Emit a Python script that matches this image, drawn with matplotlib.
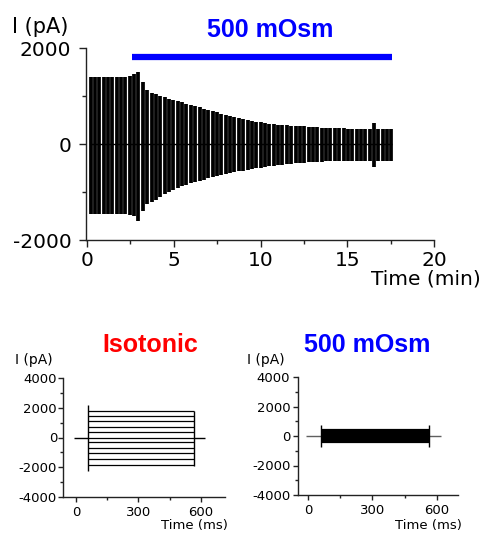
#!/usr/bin/env python3
"""Whole-cell current under hypertonic (500 mOsm) challenge: time course and step families."""
import matplotlib
matplotlib.use("Agg")
import matplotlib.pyplot as plt
import numpy as np
from matplotlib.ticker import MultipleLocator

plt.rcParams["axes.unicode_minus"] = False

# ---- time course (top panel): peak outward / inward current per sweep ----
sweep_t0, sweep_t1 = 0.2, 17.55          # min, first and last sweep
sweep_top = [
    1400, 1395, 1405, 1400, 1398, 1402, 1400, 1395, 1400, 1410,
    1450, 1490, 1300, 1120, 1070, 1040, 1010, 975, 945, 920,
    895, 865, 840, 815, 790, 765, 735, 710, 685, 660,
    630, 605, 580, 560, 535, 515, 500, 485, 465, 450,
    440, 425, 410, 400, 395, 390, 380, 375, 370, 365,
    360, 350, 345, 340, 335, 330, 330, 325, 325, 320,
    315, 315, 315, 310, 315, 440, 320, 320, 315, 310,
]
sweep_bottom = [
    -1460, -1455, -1465, -1460, -1458, -1462, -1455, -1460, -1465, -1470,
    -1500, -1610, -1400, -1260, -1200, -1160, -1100, -1040, -990, -950,
    -920, -880, -850, -820, -800, -770, -740, -715, -690, -665,
    -645, -625, -605, -590, -570, -555, -540, -525, -510, -495,
    -480, -465, -455, -440, -430, -420, -410, -400, -395, -390,
    -385, -375, -370, -365, -360, -358, -355, -352, -350, -350,
    -348, -347, -345, -345, -348, -475, -350, -350, -348, -347,
]
hyper_start, hyper_end = 2.6, 17.6       # min, 500 mOsm application
hyper_bar_level = 1810

# ---- step families (bottom panels), steady-state current per step ----
step_on, step_off = 60, 565              # ms
baseline_start, baseline_end = -10, 620  # ms
iso_levels = [1780, 1420, 1110, 730, 350, 0, -330, -710, -1050, -1450, -1830]
iso_edge_on = (-2220, 2160)
iso_edge_off = (-1900, 1800)
hyp_levels = [440, 350, 260, 180, 90, 0, -90, -180, -260, -350, -440]
hyp_edge = (-750, 750)

BLUE = "#0000FF"
RED = "#FF0000"
TICK_FONT = "DejaVu Sans"
TITLE_FONT = ["Liberation Sans", "DejaVu Sans"]

W, H = 483, 534
fig = plt.figure(figsize=(W / 100, H / 100), dpi=100)


def style_axis(ax, size, major_len, minor_len, ypad, xpad):
    for side in ("top", "right"):
        ax.spines[side].set_visible(False)
    for side in ("left", "bottom"):
        ax.spines[side].set_linewidth(1.0)
        ax.spines[side].set_color("#222222")
    ax.tick_params(which="major", direction="out", length=major_len, width=1.0,
                   labelsize=size, color="#222222")
    ax.tick_params(which="minor", direction="out", length=minor_len, width=1.0,
                   color="#222222")
    ax.tick_params(axis="y", pad=ypad)
    ax.tick_params(axis="x", pad=xpad)
    for label in ax.get_xticklabels() + ax.get_yticklabels():
        label.set_fontfamily(TICK_FONT)


# ---------------- top panel ----------------
ax = fig.add_axes([86 / W, 1 - 240 / H, (434 - 86) / W, (240 - 48) / H])
times = np.linspace(sweep_t0, sweep_t1, len(sweep_top))
ax.vlines(times, sweep_bottom, sweep_top, color="black", linewidth=2.7)
ax.hlines(0, sweep_t0 - 0.05, sweep_t1 + 0.05, color="black", linewidth=1.0)
ax.hlines(hyper_bar_level, hyper_start, hyper_end, color=BLUE, linewidth=4.5)
ax.set_xlim(-0.06, 20)
ax.set_ylim(-2000, 2000)
ax.set_xticks([0, 5, 10, 15, 20])
ax.set_yticks([-2000, 0, 2000])
ax.xaxis.set_minor_locator(MultipleLocator(2.5))
ax.yaxis.set_minor_locator(MultipleLocator(1000))
ax.spines["bottom"].set_bounds(-0.06, 20)
style_axis(ax, 14.5, 5, 3, 5.5, 3.0)
fig.text(12 / W, 1 - 27 / H, "I (pA)", fontsize=15, family=TICK_FONT,
         ha="left", va="center")
fig.text(481 / W, 1 - 279 / H, "Time (min)", fontsize=14.5, family=TICK_FONT,
         ha="right", va="center")
fig.text(270 / W, 1 - 30 / H, "500 mOsm", fontsize=18, fontweight="bold",
         family=TITLE_FONT, color=BLUE, ha="center", va="center")


# ---------------- bottom panels ----------------
def step_panel(rect, levels, edge_on, edge_off, line_w, base_color, xlim):
    axb = fig.add_axes(rect)
    axb.hlines(0, baseline_start, step_on, color=base_color, linewidth=1.0)
    axb.hlines(0, step_off, baseline_end, color=base_color, linewidth=1.0)
    axb.hlines(levels, step_on, step_off, color="black", linewidth=line_w)
    axb.vlines([step_on], *edge_on, color="black", linewidth=1.0)
    axb.vlines([step_off], *edge_off, color="black", linewidth=1.0)
    axb.set_xlim(*xlim)
    axb.set_ylim(-4000, 4000)
    axb.set_xticks([0, 300, 600])
    axb.set_yticks([-4000, -2000, 0, 2000, 4000])
    axb.xaxis.set_minor_locator(MultipleLocator(150))
    axb.yaxis.set_minor_locator(MultipleLocator(1000))
    return axb


ax_iso = step_panel([63 / W, 1 - 497 / H, (225 - 63) / W, (497 - 378) / H],
                    iso_levels, iso_edge_on, iso_edge_off, 0.9, "black", (-62, 715))
style_axis(ax_iso, 9.5, 3.5, 2, 0.8, 3.0)

ax_hyp = step_panel([298 / W, 1 - 495 / H, (458 - 298) / W, (495 - 377) / H],
                    hyp_levels, hyp_edge, hyp_edge, 1.6, "#606060", (-48, 700))
style_axis(ax_hyp, 9.5, 3.5, 2, 2.0, 3.0)

for x_left, x_right, y_label in ((15, 228, 525), (247, 462, 526)):
    fig.text(x_left / W, 1 - 360 / H, "I (pA)", fontsize=10, family=TICK_FONT,
             ha="left", va="center")
    fig.text(x_right / W, 1 - y_label / H, "Time (ms)", fontsize=9.5,
             family=TICK_FONT, ha="right", va="center")

fig.text(150 / W, 1 - 345 / H, "Isotonic", fontsize=18, fontweight="bold",
         family=TITLE_FONT, color=RED, ha="center", va="center")
fig.text(367 / W, 1 - 345 / H, "500 mOsm", fontsize=18, fontweight="bold",
         family=TITLE_FONT, color=BLUE, ha="center", va="center")

fig.savefig("out.png", dpi=100)
